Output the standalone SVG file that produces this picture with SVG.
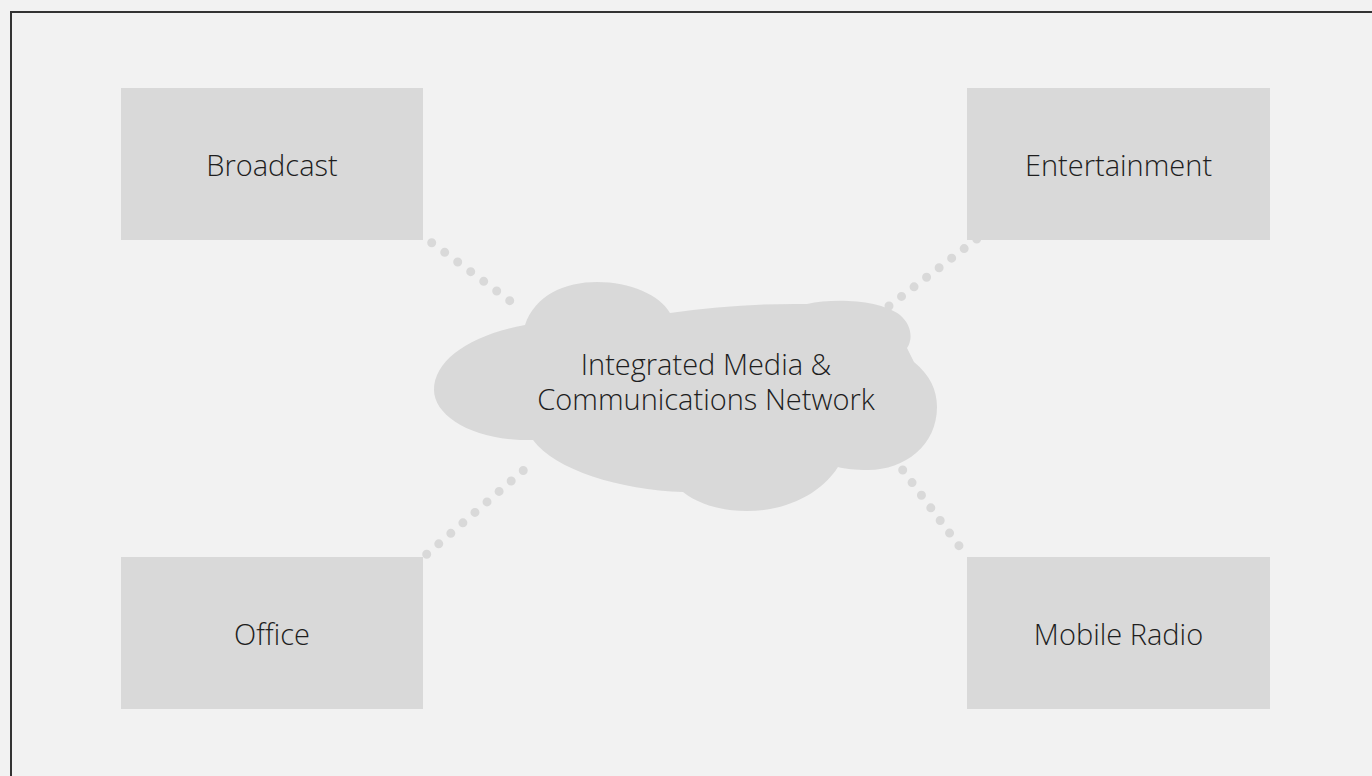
<svg xmlns="http://www.w3.org/2000/svg" width="1372" height="776" viewBox="0 0 1372 776">
<style>
.box{fill:#d9d9d9}
.lbl{font-family:"Open Sans","Noto Sans",sans-serif;font-weight:300;font-size:29px;fill:#1e1e1e;text-anchor:middle}
.dot{stroke:#d9d9d9;stroke-width:9;stroke-linecap:round;stroke-dasharray:0 1;fill:none}
</style>
<rect x="0" y="0" width="1372" height="776" fill="#f2f2f2"/>
<rect x="11" y="12" width="1420" height="820" fill="#f2f2f2" stroke="#333" stroke-width="2"/>
<g id="connectors">
<line class="dot" x1="431.7" y1="242.7" x2="522.7" y2="310.3" pathLength="7"/>
<line class="dot" x1="976.7" y1="239" x2="889" y2="306" pathLength="7"/>
<line class="dot" x1="426.7" y1="554.3" x2="535.3" y2="460" pathLength="9"/>
<line class="dot" x1="902.7" y1="470" x2="968.3" y2="558.3" pathLength="7"/>
</g>
<g id="cloud">
<path class="box" d="M525,325 C535,295 565,282 597,282 C630,282 660,295 670,313 Q740,303 807,304 C835,298 880,300 900,315 C912,325 913,340 907,348 L914,362 C930,375 937,390 937,407 C937,445 905,470 868,470 C855,470 845,469 838,467 C820,495 785,511 747,511 C718,511 697,503 683,492 C620,490 555,470 533,440 L520,440 C470,438 434,415 434,390 C434,360 470,335 525,325 Z"/>
<text class="lbl"><tspan x="706" y="375">Integrated Media &amp;</tspan><tspan x="706" y="410">Communications Network</tspan></text>
</g>
<g id="broadcast">
<rect class="box" x="121" y="88" width="302" height="152"/>
<text class="lbl" x="272" y="176">Broadcast</text>
</g>
<g id="entertainment">
<rect class="box" x="967" y="88" width="303" height="152"/>
<text class="lbl" x="1118.5" y="176">Entertainment</text>
</g>
<g id="office">
<rect class="box" x="121" y="557" width="302" height="152"/>
<text class="lbl" x="272" y="645">Office</text>
</g>
<g id="mobile-radio">
<rect class="box" x="967" y="557" width="303" height="152"/>
<text class="lbl" x="1118.5" y="645">Mobile Radio</text>
</g>
</svg>
